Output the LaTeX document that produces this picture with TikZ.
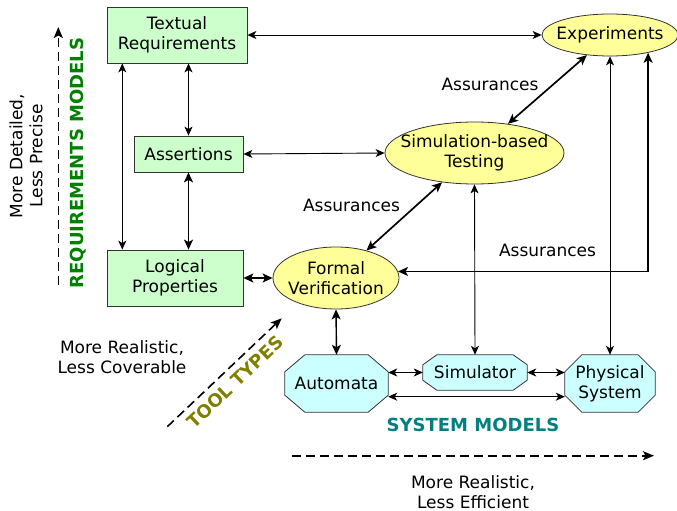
\documentclass[tikz,border=0pt]{standalone}
\usepackage{fontspec}
\setmainfont{DejaVu Sans}
\usetikzlibrary{arrows.meta,shapes.geometric,backgrounds,calc}
\definecolor{reqfill}{HTML}{CCFFCC}
\definecolor{toolfill}{HTML}{FFFF99}
\definecolor{sysfill}{HTML}{CCFFFF}
\definecolor{edgegray}{HTML}{333333}
\definecolor{reqgreen}{HTML}{008000}
\definecolor{toololive}{HTML}{808000}
\definecolor{systeal}{HTML}{008080}

% octagonal outline around a (borderless) rectangular node
\newcommand\octoutline[3]{%
  \begin{scope}[on background layer]
    \path[octo]
      ($(#1.north west)+(#2,0)$) -- ($(#1.north east)+(-#2,0)$)
      -- ($(#1.north east)+(0,#3)$) -- ($(#1.south east)+(0,-#3)$)
      -- ($(#1.south east)+(-#2,0)$) -- ($(#1.south west)+(#2,0)$)
      -- ($(#1.south west)+(0,-#3)$) -- ($(#1.north west)+(0,#3)$) -- cycle;
  \end{scope}}

\begin{document}
\begin{tikzpicture}[x=1pt,y=-1pt,
  every node/.style={font=\fontsize{17}{20}\selectfont, align=center, inner sep=0pt},
  req/.style={rectangle, draw=edgegray, fill=reqfill, line width=0.8pt},
  tool/.style={ellipse, draw=edgegray, fill=toolfill, line width=0.8pt, inner sep=-15pt},
  sysbox/.style={rectangle},
  octo/.style={draw=edgegray, fill=sysfill, line width=0.8pt},
  link/.style={{Stealth[length=9pt,width=8pt,inset=2.5pt]}-{Stealth[length=9pt,width=8pt,inset=2.5pt]}, line width=0.9pt},
  strong/.style={{Stealth[length=10pt,width=9pt,inset=2.5pt]}-{Stealth[length=10pt,width=9pt,inset=2.5pt]}, line width=1.7pt},
  lab/.style={font=\fontsize{18}{21}\selectfont\bfseries},
  trend/.style={-{Stealth[length=11pt,width=9pt,inset=2.5pt]}, line width=1.6pt, dash pattern=on 9pt off 5pt}
]
\useasboundingbox (0,0) rectangle (677,511);

% requirements models
\node[req, minimum width=140pt, minimum height=56pt] (tr) at (177,35) {Textual\\Requirements};
\node[req, minimum width=109pt, minimum height=36pt] (as) at (188.5,154) {Assertions};
\node[req, minimum width=136pt, minimum height=56pt] (lp) at (175,278) {Logical\\Properties};

% tool types
\node[tool, minimum width=136pt, minimum height=42pt] (exp) at (610,35) {Experiments};
\node[tool, minimum width=179pt, minimum height=62pt] (sim) at (474.5,153) {Simulation-based\\Testing};
\node[tool, minimum width=126pt, minimum height=62pt] (fv) at (336,278) {Formal\\Verification};

% system models
\node[sysbox, minimum width=103pt, minimum height=57pt] (auto) at (336.5,383.5) {Automata};
\node[sysbox, minimum width=104pt, minimum height=35pt] (simr) at (475,372.5) {Simulator};
\node[sysbox, minimum width=90pt, minimum height=57pt] (phys) at (610,383.5) {Physical\\System};
\octoutline{auto}{20}{17}
\octoutline{simr}{14}{10}
\octoutline{phys}{17}{17}

% connections
\draw[link] (tr.east) -- (exp.west);
\draw[link] (as.east) -- (sim.west);
\coordinate (trl) at ([xshift=15.7pt]tr.south west);
\draw[link] (trl) -- (trl |- lp.north);
\draw[link] (as.north) -- (as.north |- tr.south);
\draw[strong, line width=1.4pt] (as.south) -- (as.south |- lp.north);
\draw[strong, line width=1.4pt] (lp.east) -- (fv.west);
\draw[strong] (exp) -- (sim);
\draw[strong] (sim) -- (fv);
\draw[strong] (exp.-25.7) |- (fv.6.8);
\draw[link] (exp.south) -- (phys.north);
\draw[link] (sim.south) -- (simr.north);
\draw[strong, line width=1.4pt] (fv.south) -- (auto.north);
\draw[link] (simr.west) -- (simr.west -| auto.east);
\draw[link] (simr.east) -- (simr.east -| phys.west);
\coordinate (ab) at ([yshift=-13.2pt]auto.east);
\draw[link] (ab) -- (ab -| phys.west);

% labels on the assurance links
\node (a1) at (490,84) {Assurances};
\node (a2) at (351.5,205) {Assurances};
\node (a3) at (547.5,250.5) {Assurances};

% axis annotations
\node[rotate=90] (detail) at (26,156) {More Detailed,\\Less Precise};
\node[lab, text=reqgreen, rotate=90] (reqlab) at (78,163) {REQUIREMENTS MODELS};
\coordinate (rq0) at (58.3,285);
\coordinate (rq1) at (58.3,27);
\draw[trend] (rq0) -- (rq1);

\node (cover) at (122,357.5) {More Realistic,\\Less Coverable};
\coordinate (tt0) at (167.3,426.7);
\coordinate (tt1) at (281.7,318.3);
\draw[trend] (tt0) -- (tt1);
\node[lab, text=toololive, rotate=43.5] (toollab) at (235,382) {TOOL TYPES};

\node[lab, text=systeal] (syslab) at (473,425) {SYSTEM MODELS};
\coordinate (sm0) at (292,455.7);
\coordinate (sm1) at (654,455.7);
\draw[trend] (sm0) -- (sm1);
\node (effic) at (473,492) {More Realistic,\\Less Efficient};
\end{tikzpicture}
\end{document}
